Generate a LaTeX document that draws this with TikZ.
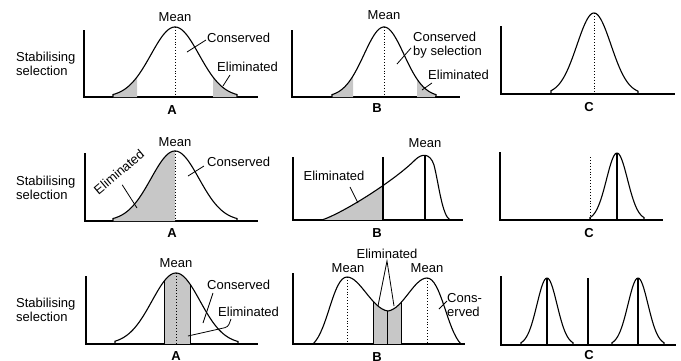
\documentclass[tikz,border=0pt]{standalone}
\usepackage{fontspec}
\setmainfont{Liberation Sans}
\usepackage{tikz}
\usetikzlibrary{positioning}
\pgfmathdeclarefunction{bell}{3}{\pgfmathparse{exp(-0.5*((#1-#2)/#3)^2)}}

\begin{document}
\begin{tikzpicture}[x=1pt,y=-1pt,font=\fontsize{13}{14}\selectfont,
  axis/.style={line width=1.1pt},
  curve/.style={line width=1.1pt},
  meanline/.style={line width=0.9pt, dotted},
  leader/.style={line width=0.8pt},
  shade/.style={fill=black!22},
  lbl/.style={inner sep=0pt},
  panel/.style={inner sep=0pt, font=\fontsize{13}{14}\selectfont\bfseries}]
\useasboundingbox (0,0) rectangle (681,360);
% axes of the nine panels
\foreach \x/\t/\b/\e in {84/30/97/258, 292/30/97/460, 501/26/94/675,
    85/153/221/258, 293/157/220/463, 500/152/220/663,
    86/276/344/258, 293/273/344/465, 501/276/345/676}{
  \draw[axis] (\x,\t) -- (\x,\b) -- (\e,\b);
}
% row labels
\foreach \y/\r in {64/1,188/2,310/3}{
  \node[lbl,anchor=west,align=left] (stab\r) at (16,\y) {Stabilising\\selection};
}

% row 1
\fill[shade] (113,97) -- plot[domain=113:137,samples=20] (\x,{97-70*bell(\x,175,24)}) -- (137,97) -- cycle;
\fill[shade] (213,97) -- plot[domain=213:237,samples=20] (\x,{97-70*bell(\x,175,24)}) -- (237,97) -- cycle;
\draw[curve] (113,97) -- plot[domain=113:237,samples=80] (\x,{97-70*bell(\x,175,24)}) -- (237,97);
\draw[meanline] (175,27) -- (175,97);
\node[lbl] (mean1a) at (175,17) {Mean};
\node[lbl,anchor=west] (cons1a) at (207,38) {Conserved};
\node[lbl,anchor=west] (elim1a) at (217,67) {Eliminated};
\coordinate (c1a) at (187,52);
\coordinate (e1a) at (223,86);
\draw[leader] (c1a) -- ([xshift=-1pt,yshift=-2pt]cons1a.west);
\draw[leader] (e1a) -- ([xshift=13pt,yshift=-3pt]elim1a.south west);
\node[panel] (pA1) at (172,110) {A};

\fill[shade] (332,97) -- plot[domain=332:353,samples=20] (\x,{97-70*bell(\x,384,20)}) -- (353,97) -- cycle;
\fill[shade] (417,97) -- plot[domain=417:435,samples=20] (\x,{97-70*bell(\x,384,20)}) -- (435,97) -- cycle;
\draw[curve] (332,97) -- plot[domain=332:436,samples=80] (\x,{97-70*bell(\x,384,20)}) -- (436,97);
\draw[meanline] (384,27) -- (384,97);
\node[lbl] (mean1b) at (384,15) {Mean};
\node[lbl,anchor=west,align=left] (cons1b) at (413,45) {Conserved\\by selection};
\node[lbl,anchor=west] (elim1b) at (428,75) {Eliminated};
\coordinate (c1b) at (397,64);
\coordinate (e1b) at (422,90);
\draw[leader] (c1b) -- ([xshift=-2pt,yshift=-3pt]cons1b.west);
\draw[leader] (e1b) -- ([xshift=4pt,yshift=-3pt]elim1b.south west);
\node[panel] (pB1) at (377,108) {B};

\draw[curve] (551,94) -- plot[domain=551:638,samples=80] (\x,{94-81*bell(\x,594,17)}) -- (638,94);
\draw[meanline] (594,13) -- (594,94);
\node[panel] (pC1) at (589,107) {C};

% row 2
\fill[shade] (113,221) -- plot[domain=113:175,samples=40] (\x,{221-70*bell(\x,175,24)}) -- (175,221) -- cycle;
\draw[curve] (113,221) -- plot[domain=113:237,samples=80] (\x,{221-70*bell(\x,175,24)}) -- (237,221);
\draw[meanline] (175,151) -- (175,221);
\node[lbl] (mean2a) at (175,142) {Mean};
\node[lbl,rotate=40] (elim2a) at (119,172) {Eliminated};
\node[lbl,anchor=west] (cons2a) at (207,162) {Conserved};
\coordinate (e2a) at (137,208);
\coordinate (c2a) at (188,176);
\draw[leader] (e2a) -- ([yshift=-9pt]elim2a.south);
\draw[leader] (c2a) -- ([xshift=-3pt,yshift=-4pt]cons2a.west);
\node[panel] (pA2) at (172,233) {A};

\begin{scope}
  \clip (322,220) .. controls (345,212) and (395,180) .. (415,160)
    .. controls (422,153) and (430,153) .. (434,165)
    .. controls (439,185) and (442,215) .. (450,220) -- cycle;
  \fill[shade] (322,150) rectangle (383,220);
\end{scope}
\draw[curve] (322,220) .. controls (345,212) and (395,180) .. (415,160)
  .. controls (422,153) and (430,153) .. (434,165)
  .. controls (439,185) and (442,215) .. (450,220);
\draw[curve] (383,157) -- (383,220);
\draw[curve] (425,156) -- (425,220);
\node[lbl] (elim2b) at (334,176) {Eliminated};
\node[lbl] (mean2b) at (425,143) {Mean};
\coordinate (e2b) at (358,203);
\draw[leader] (e2b) -- ([xshift=16pt,yshift=-6pt]elim2b.south);
\node[panel] (pB2) at (377,233) {B};

\draw[meanline] (590,157) -- (590,220);
\draw[curve] (590,220) -- plot[domain=590:644,samples=60] (\x,{220-67*bell(\x,617,10.5)}) -- (644,220);
\draw[curve] (617,153) -- (617,220);
\node[panel] (pC2) at (589,233) {C};

% row 3
\begin{scope}
  \clip (115,344) -- plot[domain=115:238,samples=80] (\x,{344-71*bell(\x,176,24)}) -- (238,344) -- cycle;
  \filldraw[shade,draw=black,line width=0.8pt] (164,260) rectangle (190,344);
\end{scope}
\draw[curve] (115,344) -- plot[domain=115:238,samples=80] (\x,{344-71*bell(\x,176,24)}) -- (238,344);
\draw[meanline] (176,273) -- (176,344);
\node[lbl] (mean3a) at (176,263) {Mean};
\node[lbl,anchor=west] (cons3a) at (207,285) {Conserved};
\node[lbl,anchor=west] (elim3a) at (218,312) {Eliminated};
\coordinate (c3a) at (203,323);
\coordinate (e3a) at (188,336);
\draw[leader] ([xshift=6pt,yshift=-3pt]cons3a.south west) -- (c3a);
\draw[leader,rounded corners=3pt] ([xshift=13pt,yshift=-2pt]elim3a.south west) -- ++(-3,8) -- (e3a);
\node[panel] (pA3) at (176,356) {A};

\begin{scope}
  \clip (313,344) .. controls (328,330) and (333,277) .. (347,277)
    .. controls (360,277) and (372,309) .. (388,311)
    .. controls (403,309) and (414,278) .. (427,278)
    .. controls (441,278) and (447,330) .. (461,344) -- cycle;
  \filldraw[shade,draw=black,line width=0.8pt] (373,260) rectangle (401,344);
  \draw[line width=0.8pt] (387,260) -- (387,344);
\end{scope}
\draw[curve] (313,344) .. controls (328,330) and (333,277) .. (347,277)
  .. controls (360,277) and (372,309) .. (388,311)
  .. controls (403,309) and (414,278) .. (427,278)
  .. controls (441,278) and (447,330) .. (461,344);
\draw[meanline] (347,277) -- (347,344);
\draw[meanline] (427,278) -- (427,344);
\node[lbl] (mean3b) at (348,268) {Mean};
\node[lbl] (mean3c) at (427,268) {Mean};
\node[lbl] (elim3b) at (387,254) {Eliminated};
\coordinate (e3b) at (378,306);
\coordinate (e3c) at (394,306);
\draw[leader] (e3b) -- ([yshift=-2pt]elim3b.south) -- (e3c);
\node[lbl,anchor=west,align=left] (cons3b) at (447,305) {Cons-\\erved};
\coordinate (c3b) at (439,309);
\draw[leader] (c3b) -- ([yshift=4pt]cons3b.west);
\node[panel] (pB3) at (377,357) {B};

\draw[curve] (521,345) -- plot[domain=521:573,samples=60] (\x,{345-67*bell(\x,547,10)}) -- (573,345);
\draw[curve] (612,345) -- plot[domain=612:664,samples=60] (\x,{345-67*bell(\x,638,10)}) -- (664,345);
\draw[curve] (547,278) -- (547,345);
\draw[curve] (638,278) -- (638,345);
\draw[curve] (588,278) -- (588,345);
\node[panel] (pC3) at (589,355) {C};
\end{tikzpicture}
\end{document}
